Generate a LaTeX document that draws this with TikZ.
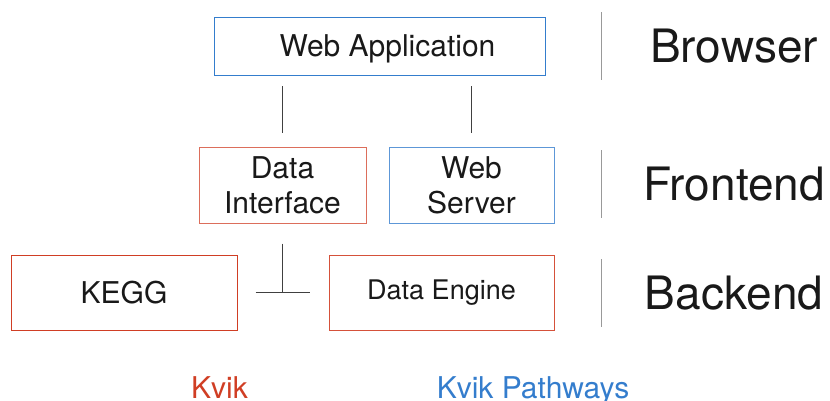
\documentclass[tikz,border=0pt]{standalone}
\usepackage{fontspec}
\setmainfont{TeX Gyre Heros}
\definecolor{kvikred}{RGB}{208,62,36}
\definecolor{kvikblue}{RGB}{52,125,205}

\begin{document}
\begin{tikzpicture}[x=1pt, y=-1pt]
    \tikzstyle{block}=[draw, line width=1pt, inner sep=0pt, align=center, text=black!90, font=\fontsize{30}{35}\selectfont]
    \tikzstyle{link}=[draw, line width=1pt, black!75]
    \tikzstyle{tier}=[text=black!90, font=\fontsize{46}{50}\selectfont]
    \useasboundingbox (0,0) rectangle (830,400);

    % draw boxes
    \node [block, draw=kvikblue, minimum width=331pt, minimum height=58pt, text depth=0pt] (webapp) at (379.5,46) {\hspace*{16pt}Web Application};

    \node [block, draw=kvikred!75, minimum width=167pt, minimum height=76pt] (datainterface) at (282.5,185) {Data\\Interface};
    \node [block, draw=kvikblue!80, minimum width=165pt, minimum height=76pt] (webserver) at (471.5,185) {Web\\Server};

    \node [block, draw=kvikred, minimum width=226pt, minimum height=75pt] (kegg) at (124,292.5) {KEGG};
    \node [block, draw=kvikred!90, minimum width=225pt, minimum height=75pt, font=\fontsize{27}{30}\selectfont] (dataengine) at (441.5,292.5) {Data Engine};

    % draw lines
    \draw [link, shorten <=14pt, shorten >=10pt] (datainterface.north) -- (datainterface.north |- webapp.south);
    \draw [link, shorten <=14pt, shorten >=10pt] (webserver.north) -- (webserver.north |- webapp.south);

    \coordinate (junction) at (datainterface.south |- kegg.east);
    \draw [link, shorten <=20pt] (datainterface.south) -- (junction);
    \draw [link, shorten <=18pt, shorten >=19pt] (kegg.east) -- (dataengine.west);

    % draw tiers
    \foreach \l/\y [count=\i] in {Browser/46, Frontend/184, Backend/293} {
    \node [tier] (tier-\i) at (734,\y) {\l};
    \draw [gray!80, line width=1pt] (601,\y-34) -- (601,\y+34);}

    % draw legend
    \node [text=kvikred, font=\fontsize{30}{35}\selectfont, anchor=base] (kvik) at (219.5,398) {Kvik};
    \node [text=kvikblue, font=\fontsize{30}{35}\selectfont, anchor=base] (pathways) at (533,398) {Kvik Pathways};

\end{tikzpicture}
\end{document}
